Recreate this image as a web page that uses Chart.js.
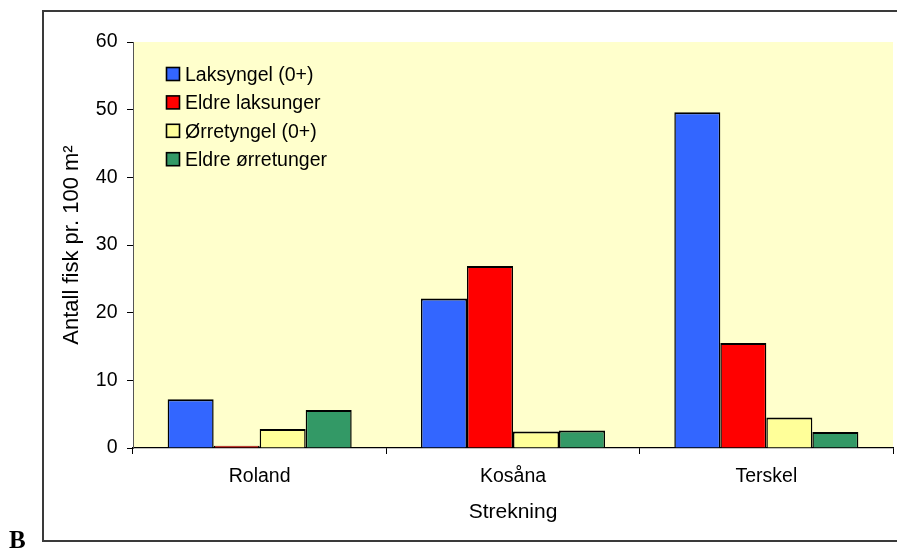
<!DOCTYPE html>
<html>
<head>
<meta charset="utf-8">
<script src="https://cdn.jsdelivr.net/npm/chart.js@4.4.1/dist/chart.umd.min.js"></script>
<style>
  html, body { margin: 0; padding: 0; background: #fff; }
  #wrap { position: relative; width: 897px; height: 550px; }
</style>
</head>
<body>
<div id="wrap"><canvas id="c" width="897" height="550"></canvas></div>
<script>
// Fish density per stretch (antall fisk pr. 100 m²)
const categories = ['Roland', 'Kosåna', 'Terskel'];
const seriesNames = ['Laksyngel (0+)', 'Eldre laksunger', 'Ørretyngel (0+)', 'Eldre ørretunger'];
const laksyngel = [7.2, 22.1, 49.6];
const eldreLaksunger = [0.35, 26.9, 15.5];
const orretyngel = [2.8, 2.45, 4.5];
const eldreOrretunger = [5.6, 2.6, 2.35];
const seriesColors = ['#3366FF', '#FF0000', '#FFFF99', '#339966'];
const yTickValues = [0, 10, 20, 30, 40, 50, 60];

const FONT = "'Liberation Sans', Arial, sans-serif";
Chart.defaults.font.family = FONT;
Chart.defaults.color = '#000';

const seriesValues = [laksyngel, eldreLaksunger, orretyngel, eldreOrretunger];

// Plot background, outer frame and panel letter
const framePlugin = {
  id: 'frame',
  beforeDraw(chart) {
    const { ctx, chartArea } = chart;
    ctx.save();
    ctx.fillStyle = '#fff';
    ctx.fillRect(0, 0, chart.width, chart.height);
    ctx.fillStyle = '#FFFFCC';
    ctx.fillRect(chartArea.left, chartArea.top, chartArea.right - chartArea.left, chartArea.bottom - chartArea.top);
    ctx.strokeStyle = '#3a3a3a';
    ctx.lineWidth = 2;
    ctx.strokeRect(43, 11, 870, 530);
    ctx.fillStyle = '#000';
    ctx.font = "bold 25px 'Liberation Serif', 'Times New Roman', serif";
    ctx.textBaseline = 'alphabetic';
    ctx.textAlign = 'left';
    ctx.fillText('B', 9, 548);
    ctx.restore();
  }
};

// Legend drawn inside the plot area, top-left
const plotLegend = {
  id: 'plotLegend',
  afterDatasetsDraw(chart) {
    const { ctx, chartArea } = chart;
    ctx.save();
    ctx.font = '19.5px ' + FONT;
    ctx.textBaseline = 'middle';
    ctx.textAlign = 'left';
    chart.data.datasets.forEach((ds, i) => {
      const yc = chartArea.top + 33.5 + i * 28.4;
      const bx = chartArea.left + 33.5;
      ctx.fillStyle = ds.backgroundColor;
      ctx.fillRect(bx, yc - 8, 13, 13);
      ctx.lineWidth = 1.6;
      ctx.strokeStyle = '#000';
      ctx.strokeRect(bx, yc - 8, 13, 13);
      ctx.fillStyle = '#000';
      ctx.fillText(ds.label, chartArea.left + 52, yc);
    });
    ctx.restore();
  }
};

new Chart(document.getElementById('c'), {
  type: 'bar',
  data: {
    labels: categories,
    datasets: seriesNames.map((name, i) => ({
      label: name,
      data: seriesValues[i],
      backgroundColor: seriesColors[i],
      borderColor: '#000',
      borderWidth: { top: 2, left: 1.5, right: 1.5, bottom: 0 },
      categoryPercentage: 0.7265,
      barPercentage: 1.0
    }))
  },
  options: {
    responsive: false,
    animation: false,
    devicePixelRatio: 1,
    layout: { padding: { left: 0, top: 42, right: 4, bottom: 0 } },
    plugins: {
      legend: { display: false },
      tooltip: { enabled: false }
    },
    scales: {
      x: {
        grid: { drawOnChartArea: false, drawTicks: true, tickLength: 6, color: '#000', offset: true },
        border: { display: true, color: '#000', width: 1.2 },
        ticks: { font: { size: 19.5 }, padding: 11, color: '#000' },
        title: { display: true, text: 'Strekning', font: { size: 21 }, color: '#000', padding: { top: 0, bottom: 25 } },
        afterFit(scale) { scale.height = 102; }
      },
      y: {
        min: 0,
        max: 60,
        afterBuildTicks(scale) { scale.ticks = yTickValues.map(v => ({ value: v })); },
        grid: { drawOnChartArea: false, drawTicks: true, tickLength: 6, color: '#000' },
        border: { display: true, color: '#555', width: 1 },
        ticks: { font: { size: 19.5 }, padding: 9.5, color: '#000' },
        title: { display: true, text: 'Antall fisk pr. 100 m²', font: { size: 22 }, color: '#000', padding: { top: 59, bottom: 0 } },
        afterFit(scale) { scale.width = 133; }
      }
    }
  },
  plugins: [framePlugin, plotLegend]
});
</script>
</body>
</html>
